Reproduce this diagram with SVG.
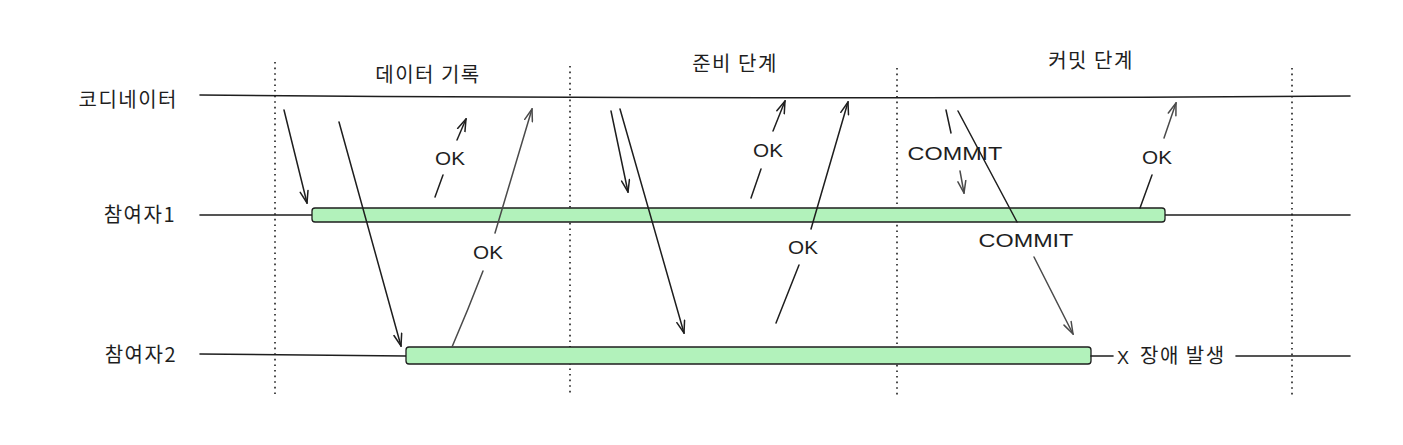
<svg xmlns="http://www.w3.org/2000/svg" width="1403" height="445" viewBox="0 0 1403 445">
<style>
.bg{fill:#ffffff}
.life{fill:none;stroke:#1e1e1e;stroke-width:1.6;stroke-linecap:round}
.div{fill:none;stroke:#1e1e1e;stroke-width:1.6;stroke-dasharray:1.6 4}
.bar{fill:#b2f2bb;stroke:#1e1e1e;stroke-width:1.3}
.msg{fill:none;stroke:#1e1e1e;stroke-width:1.5;stroke-linecap:round}
.msg-g{fill:none;stroke:#4a4a4a;stroke-width:1.5;stroke-linecap:round}
.ko{font-family:"Noto Sans CJK KR","Noto Sans",sans-serif;font-size:20px;letter-spacing:1.5px;fill:#1e1e1e}
.hand{font-family:"Liberation Sans","DejaVu Sans",sans-serif;font-size:18px;fill:#1e1e1e}
</style>
<defs>
<marker id="ah" viewBox="0 0 14 10" refX="13" refY="5" markerWidth="14" markerHeight="10" markerUnits="userSpaceOnUse" orient="auto">
<path d="M1,1 L13,5 L1,9" fill="none" stroke="#1e1e1e" stroke-width="1.5" stroke-linecap="round"/>
</marker>
<marker id="ahg" viewBox="0 0 14 10" refX="13" refY="5" markerWidth="14" markerHeight="10" markerUnits="userSpaceOnUse" orient="auto">
<path d="M1,1 L13,5 L1,9" fill="none" stroke="#4a4a4a" stroke-width="1.5" stroke-linecap="round"/>
</marker>
</defs>
<rect class="bg" x="0" y="0" width="1403" height="445"/>

<g id="phase-dividers">
<line class="div" x1="275" y1="62" x2="275" y2="396"/>
<line class="div" x1="570" y1="66" x2="570" y2="396"/>
<line class="div" x1="897" y1="68" x2="897" y2="396"/>
<line class="div" x1="1292" y1="68" x2="1292" y2="396"/>
</g>

<g id="phase-titles">
<text class="ko" x="428" y="82" text-anchor="middle">데이터 기록</text>
<text class="ko" x="735" y="71" text-anchor="middle">준비 단계</text>
<text class="ko" x="1091" y="68" text-anchor="middle">커밋 단계</text>
</g>

<g id="coordinator">
<text class="ko" x="178" y="107" text-anchor="end">코디네이터</text>
<path class="life" d="M200,95 Q760,100 1350,96"/>
</g>

<g id="participant1">
<text class="ko" x="176" y="222" text-anchor="end">참여자1</text>
<line class="life" x1="200" y1="215" x2="312" y2="215"/>
<line class="life" x1="1165" y1="215" x2="1350" y2="215"/>
<rect class="bar" x="312" y="208" width="853" height="14" rx="3"/>
</g>

<g id="participant2">
<text class="ko" x="177" y="362" text-anchor="end">참여자2</text>
<line class="life" x1="200" y1="354" x2="406" y2="356"/>
<rect class="bar" x="406" y="347" width="685" height="17" rx="3"/>
<line class="life" x1="1091" y1="356" x2="1113" y2="356"/>
<text class="hand" x="1117" y="364">X</text>
<text class="ko" x="1140" y="363">장애 발생</text>
<line class="life" x1="1236" y1="356" x2="1350" y2="356"/>
</g>

<g id="connectors">
<line class="msg" x1="284" y1="110" x2="307" y2="203" marker-end="url(#ah)"/>
<line class="msg" x1="339" y1="122" x2="401" y2="346" marker-end="url(#ah)"/>
<path class="msg-g" d="M452,347 Q468,310 483,271"/>
<path class="msg-g" d="M495,233 L532,109" marker-end="url(#ahg)"/>
<line class="msg" x1="435" y1="197" x2="443" y2="175"/>
<line class="msg" x1="457" y1="140" x2="466" y2="119" marker-end="url(#ah)"/>

<line class="msg" x1="611" y1="111" x2="628" y2="192" marker-end="url(#ah)"/>
<line class="msg" x1="620" y1="109" x2="684" y2="333" marker-end="url(#ah)"/>
<line class="msg" x1="751" y1="198" x2="761" y2="169"/>
<line class="msg" x1="773" y1="131" x2="785" y2="101" marker-end="url(#ah)"/>
<line class="msg" x1="776" y1="323" x2="799" y2="265"/>
<line class="msg" x1="811" y1="229" x2="848" y2="102" marker-end="url(#ah)"/>

<line class="msg" x1="946" y1="110" x2="951" y2="133"/>
<line class="msg-g" x1="960" y1="171" x2="964" y2="193" marker-end="url(#ahg)"/>
<line class="msg" x1="958" y1="111" x2="1017" y2="222"/>
<line class="msg-g" x1="1034" y1="257" x2="1073" y2="334" marker-end="url(#ahg)"/>
<line class="msg" x1="1140" y1="208" x2="1152" y2="175"/>
<line class="msg-g" x1="1164" y1="138" x2="1176" y2="103" marker-end="url(#ahg)"/>
</g>

<g id="labels">
<text class="hand" transform="translate(450,165) scale(1.15,1)" text-anchor="middle">OK</text>
<text class="hand" transform="translate(488,259) scale(1.15,1)" text-anchor="middle">OK</text>
<text class="hand" transform="translate(768,157) scale(1.15,1)" text-anchor="middle">OK</text>
<text class="hand" transform="translate(803,254) scale(1.15,1)" text-anchor="middle">OK</text>
<text class="hand" transform="translate(1157,164) scale(1.15,1)" text-anchor="middle">OK</text>
<text class="hand" transform="translate(955,160) scale(1.3,1)" text-anchor="middle">COMMIT</text>
<text class="hand" transform="translate(1026,247) scale(1.3,1)" text-anchor="middle">COMMIT</text>
</g>
</svg>
